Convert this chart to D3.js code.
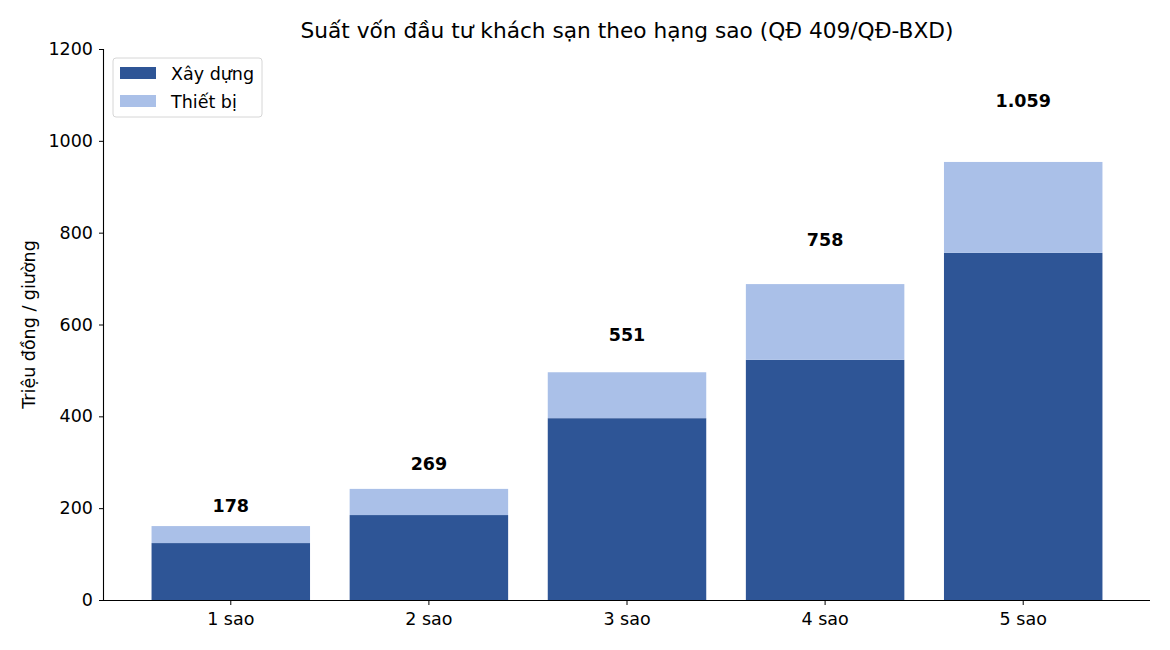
<!DOCTYPE html>
<html>
<head>
<meta charset="utf-8">
<script src="https://cdn.jsdelivr.net/npm/d3@7/dist/d3.min.js"></script>
<style>
html,body{margin:0;padding:0;background:#fff;}
svg text{font-family:"DejaVu Sans",sans-serif;}
</style>
</head>
<body>
<svg id="chart" width="1170" height="650"></svg>
<script>
const categories = ["1 sao","2 sao","3 sao","4 sao","5 sao"];
const xayDung = [124, 185, 396, 523, 756];
const thietBi = [37, 57, 100, 165, 198];
const totalValues = [178, 269, 551, 758, 1059];
const totalLabels = ["178","269","551","758","1.059"];
const yTicks = [0,200,400,600,800,1000,1200];
const seriesNames = ["Xây dựng","Thiết bị"];
const colors = ["#2E5596","#AAC0E8"];

const svg = d3.select("#chart");
const L = 104, R = 1150, T = 49, B = 600;
const FS = "17.5px";

const x = d3.scaleBand().domain(categories).range([L, R]).paddingInner(0.2).paddingOuter(0.24);
const y = d3.scaleLinear().domain([0, 1200]).range([B, T]);

// title
svg.append("text").attr("x", (L+R)/2 + 0).attr("y", 38).attr("text-anchor","middle")
  .style("font-size","21.7px").text("Suất vốn đầu tư khách sạn theo hạng sao (QĐ 409/QĐ-BXD)");

// bars
const g = svg.append("g");
categories.forEach((c,i)=>{
  g.append("rect").attr("x", x(c)).attr("width", x.bandwidth())
    .attr("y", y(xayDung[i])).attr("height", y(0)-y(xayDung[i])).attr("fill", colors[0]);
  g.append("rect").attr("x", x(c)).attr("width", x.bandwidth())
    .attr("y", y(xayDung[i]+thietBi[i])).attr("height", y(xayDung[i])-y(xayDung[i]+thietBi[i])).attr("fill", colors[1]);
  g.append("text").attr("x", x(c)+x.bandwidth()/2).attr("y", y(totalValues[i]+27))
    .attr("text-anchor","middle").attr("dominant-baseline","central")
    .style("font-size",FS).style("font-weight","bold").text(totalLabels[i]);
});

// axes
const xAxis = d3.axisBottom(x).tickSize(5).tickPadding(8);
const xg = svg.append("g").attr("transform",`translate(0,${B})`).call(xAxis);
xg.select(".domain").attr("d", `M${L},0.5H${R}`).attr("stroke","#000").attr("stroke-width",1.1);
xg.selectAll("text").style("font-size",FS).attr("fill","#000");
xg.selectAll("line").attr("stroke","#000");

const yAxis = d3.axisLeft(y).tickValues(yTicks).tickFormat(d3.format("d")).tickSize(5).tickPadding(6);
const yg = svg.append("g").attr("transform",`translate(${L},0)`).call(yAxis);
yg.select(".domain").attr("d", `M-0.5,${B}V${T}`).attr("stroke","#000").attr("stroke-width",1.1);
yg.selectAll("text").style("font-size",FS).attr("fill","#000");
yg.selectAll("line").attr("stroke","#000");

// y label
svg.append("text").attr("transform",`translate(35,${(T+B)/2}) rotate(-90)`)
  .attr("text-anchor","middle").style("font-size",FS).text("Triệu đồng / giường");

// legend
const lg = svg.append("g");
lg.append("rect").attr("x",113).attr("y",58).attr("width",149).attr("height",59)
  .attr("rx",3).attr("fill","#fff").attr("stroke","#d6d6d6");
seriesNames.forEach((n,i)=>{
  lg.append("rect").attr("x",120).attr("y",67+i*28).attr("width",36).attr("height",12).attr("fill",colors[i]);
  lg.append("text").attr("x",171).attr("y",74+i*28).attr("dominant-baseline","central")
    .style("font-size",FS).text(n);
});
</script>
</body>
</html>
